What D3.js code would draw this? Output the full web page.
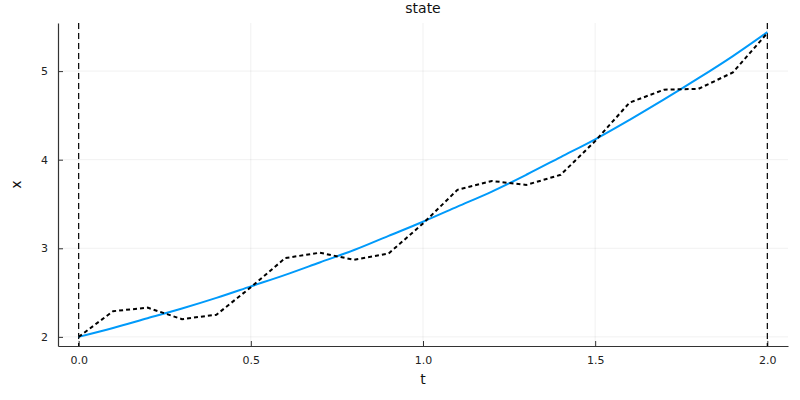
<!DOCTYPE html>
<html><head><meta charset="utf-8">
<script src="https://cdn.jsdelivr.net/npm/d3@7"></script>
<style>body{margin:0;background:#fff}svg{display:block;font-family:"DejaVu Sans",sans-serif}</style>
</head><body><svg id="c" width="800" height="400"></svg>
<script>
const tValues = [0,0.1,0.2,0.3,0.4,0.5,0.6,0.7,0.8,0.9,1.0,1.1,1.2,1.3,1.4,1.5,1.6,1.7,1.8,1.9,2.0];
const smoothX = [2.00,2.10,2.21,2.32,2.44,2.57,2.70,2.84,2.98,3.14,3.30,3.47,3.64,3.83,4.03,4.23,4.45,4.68,4.92,5.17,5.44];
const sampledX = [2.00,2.29,2.33,2.20,2.25,2.56,2.89,2.95,2.87,2.94,3.28,3.66,3.76,3.715,3.83,4.21,4.645,4.79,4.80,4.985,5.43];
const vlines = [0,2];
const xTicks = [0,0.5,1.0,1.5,2.0];
const xTickLabels = ["0.0","0.5","1.0","1.5","2.0"];
const yTicks = [2,3,4,5];
const yTickLabels = ["2","3","4","5"];

const svg = d3.select("#c");
const L=58, R=788, T=23, B=346;
const x = d3.scaleLinear().domain([-0.06,2.06]).range([L,R]);
const y = d3.scaleLinear().domain([1.897,5.543]).range([B,T]);

// grid
svg.append("g").selectAll("line").data(xTicks).join("line")
  .attr("x1",d=>x(d)).attr("x2",d=>x(d)).attr("y1",T).attr("y2",B)
  .attr("stroke","#000").attr("stroke-opacity",0.1).attr("stroke-width",0.6);
svg.append("g").selectAll("line").data(yTicks).join("line")
  .attr("y1",d=>y(d)).attr("y2",d=>y(d)).attr("x1",L).attr("x2",R)
  .attr("stroke","#000").attr("stroke-opacity",0.1).attr("stroke-width",0.6);

// axes
const xAxis = d3.axisBottom(x).tickValues(xTicks).tickFormat((d,i)=>xTickLabels[i]).tickSizeInner(-5).tickSizeOuter(0).tickPadding(10);
const gx = svg.append("g").attr("transform",`translate(0,${B})`).call(xAxis);
gx.select(".domain").attr("stroke","#333").attr("stroke-width",1.2);
gx.selectAll(".tick line").attr("stroke","#333");
gx.selectAll("text").attr("font-size",11).attr("fill","#222").attr("font-family","DejaVu Sans");

const yAxis = d3.axisLeft(y).tickValues(yTicks).tickFormat((d,i)=>yTickLabels[i]).tickSizeInner(-5).tickSizeOuter(0).tickPadding(10);
const gy = svg.append("g").attr("transform",`translate(${L},0)`).call(yAxis);
gy.select(".domain").attr("stroke","#333").attr("stroke-width",1.2);
gy.selectAll(".tick line").attr("stroke","#333");
gy.selectAll("text").attr("font-size",11).attr("fill","#222").attr("font-family","DejaVu Sans");

// vertical dashed lines
svg.append("g").selectAll("line").data(vlines).join("line")
  .attr("x1",d=>x(d)).attr("x2",d=>x(d)).attr("y1",T).attr("y2",B)
  .attr("stroke","#000").attr("stroke-width",1.2).attr("stroke-dasharray","6,4");

const line = d3.line().x((d,i)=>x(tValues[i])).y(d=>y(d));
svg.append("path").datum(smoothX).attr("d",line.curve(d3.curveMonotoneX))
  .attr("fill","none").attr("stroke","#009AFA").attr("stroke-width",2);
svg.append("path").datum(sampledX).attr("d",d3.line().x((d,i)=>x(tValues[i])).y(d=>y(d)))
  .attr("fill","none").attr("stroke","#000").attr("stroke-width",2).attr("stroke-dasharray","4,3");

// labels
svg.append("text").attr("x",(L+R)/2).attr("y",13).attr("text-anchor","middle")
  .attr("font-size",14).attr("fill","#111").text("state");
svg.append("text").attr("x",(L+R)/2).attr("y",384).attr("text-anchor","middle")
  .attr("font-size",14).attr("fill","#111").text("t");
svg.append("text").attr("transform",`translate(21,${(T+B)/2}) rotate(-90)`).attr("text-anchor","middle")
  .attr("font-size",14).attr("fill","#111").text("x");
</script></body></html>
